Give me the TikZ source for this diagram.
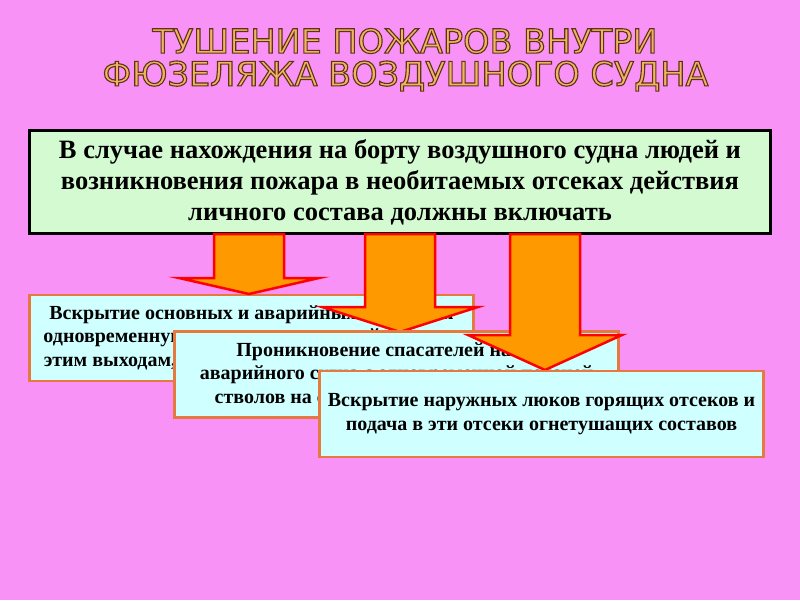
\documentclass[tikz,border=0pt]{standalone}
\usepackage{fontspec}
\setmainfont{Liberation Serif}
\newfontfamily\titlefont{DejaVu Sans}
\usetikzlibrary{calc,positioning}
\definecolor{fon}{RGB}{249,146,246}
\definecolor{zelen}{RGB}{212,250,210}
\definecolor{goluboj}{RGB}{208,255,255}
\definecolor{ramka}{RGB}{230,122,62}
\definecolor{strelka}{RGB}{255,153,0}
\definecolor{zagolovok}{RGB}{242,180,100}
\newcommand{\obvodka}[1]{\special{pdf:literal direct 0.36 0.2 0.08 RG 2 Tr 1.1 w}#1\special{pdf:literal direct 0 Tr}}
\newcommand{\blokstrela}[3]{%
  \path (#1 |- shapka.south) coordinate (verh);
  \draw[strela] ($(verh)+(-35,-1)$) -- ($(#1)+(-35,-#3)$) -- ($(#1)+(-#2,-#3)$)
    -- (#1) -- ($(#1)+(#2,-#3)$) -- ($(#1)+(35,-#3)$) -- ($(verh)+(35,-1)$) -- cycle;}
\begin{document}
\begin{tikzpicture}[x=1pt,y=-1pt,
    shapka/.style={draw=black,line width=3pt,fill=zelen,minimum width=741pt,minimum height=103pt,
      align=center,font=\bfseries\fontsize{26.5}{31}\selectfont},
    punkt/.style={draw=ramka,line width=2.5pt,fill=goluboj,minimum width=444pt,minimum height=86pt,
      align=center,inner sep=0pt,font=\bfseries\fontsize{20}{23.5}\selectfont},
    strela/.style={draw=red,line width=2.5pt,fill=strelka,line join=miter},
    titul/.style={text=zagolovok,font=\titlefont\fontsize{33.5}{35}\selectfont}]
    \fill[fon] (0,0) rectangle (800,600);

    \draw node at (405,41)[titul,name=titul1]{\obvodka{ТУШЕНИЕ ПОЖАРОВ ВНУТРИ}};
    \draw node at (405.5,76)[titul,name=titul2]{\obvodka{ФЮЗЕЛЯЖА ВОЗДУШНОГО СУДНА}};

    \draw node at (400,182)[shapka,name=shapka]{В случае нахождения на борту воздушного судна людей и\\
      возникновения пожара в необитаемых отсеках действия\\ личного состава должны включать};

    \coordinate (niz1) at (249,294);
    \coordinate (niz2) at (400,332);
    \coordinate (niz3) at (545,370);

    \draw node at (251.5,338)[punkt,name=vskrytie]{Вскрытие основных и аварийных выходов и\\
      одновременную подачу огнетушащей пены по\\ этим выходам, и эвакуацию людей из салонов};
    \blokstrela{niz1}{70}{16}
    \blokstrela{niz2}{78}{25}
    \draw node at (396.5,374.5)[punkt,name=proniknovenie]{Проникновение спасателей на борт\\
      аварийного судна с одновременной подачей\\ стволов на спасение и эвакуацию людей};
    \blokstrela{niz3}{77}{35}
    \draw node at (541.5,414)[punkt,name=ljuki]{Вскрытие наружных люков горящих отсеков и\\
      подача в эти отсеки огнетушащих составов};
\end{tikzpicture}
\end{document}
